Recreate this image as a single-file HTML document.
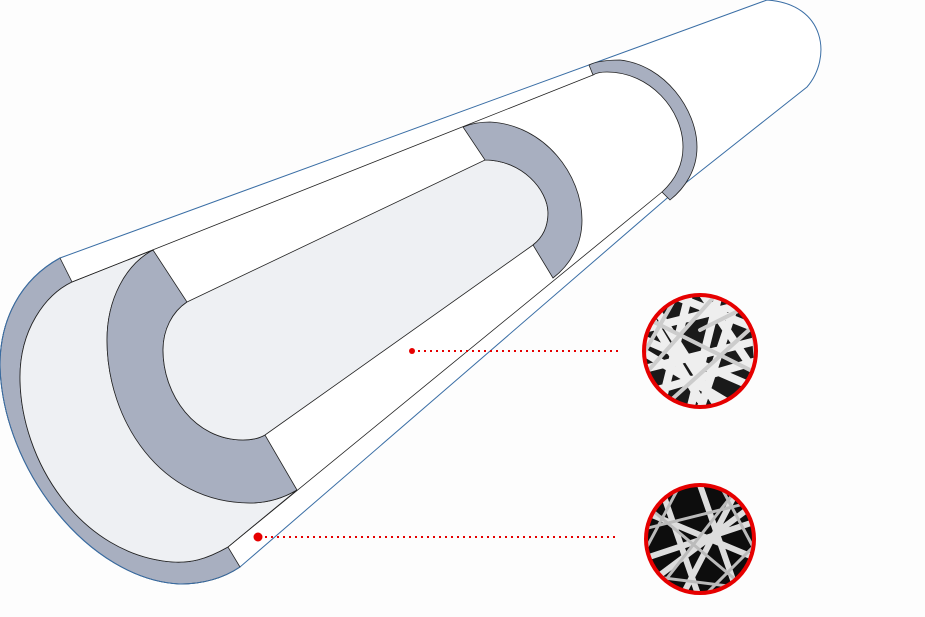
<!DOCTYPE html>
<html><head><meta charset="utf-8"><style>html,body{margin:0;padding:0;background:#fdfdfd}svg{display:block}</style></head><body>
<svg width="925" height="617" viewBox="0 0 925 617" xmlns="http://www.w3.org/2000/svg">
<defs>
<clipPath id="c1"><circle cx="700" cy="351" r="55"/></clipPath>
<clipPath id="c2"><circle cx="700" cy="539" r="53"/></clipPath>
</defs>
<rect width="925" height="617" fill="#fdfdfd"/>
<path d="M60,258 C20,280 0,320 0,365 C2,470 90,580 180,584 C205,584 225,577 240,567 L673,193 L807,87 C832,58 826,4 767,0 Z" fill="#fff" stroke="#3a6ea5" stroke-width="1"/>
<g stroke="#222" stroke-width="0.8">
<path d="M60,258 C20,280 0,320 0,365 C2,470 90,580 180,584 C205,584 225,577 240,567 L228,547 C205,560 190,563 173,562 C80,555 20,460 20,377 C20,330 45,295 72,282 Z" fill="#a8afc0"/>
<path d="M72,282 C45,295 20,330 20,377 C20,460 80,555 173,562 C190,563 205,560 228,547 L297,490 C280,500 265,503 250,503 C160,500 107,420 107,340 C107,300 125,265 153,250 Z" fill="#eef0f3"/>
<path d="M153,250 C125,265 107,300 107,340 C107,420 160,503 250,503 C265,503 280,500 297,490 L265,435 C258,439 250,440 243,440 C195,440 163,395 163,350 C163,330 172,312 187,302 Z" fill="#a8afc0"/>
<path d="M187,302 L485,160 C522,160 548,190 548,213 C548,228 542,238 533,245 L265,435 C258,439 250,440 243,440 C195,440 163,395 163,350 C163,330 172,312 187,302 Z" fill="#eef0f3"/>
<path d="M463,127 C470,124 480,122 490,122 C545,125 582,175 582,220 C582,245 570,265 553,278 L533,245 C542,238 548,228 548,213 C548,190 522,160 485,160 Z" fill="#a8afc0"/>
<path d="M589,65 C595,62 605,60 620,60 C665,65 697,110 697,147 C697,170 685,188 670,200 L662,192 C675,180 683,165 683,147 C683,110 650,72 607,72 C600,72 596,73 593,75 Z" fill="#a8afc0"/>
<path d="M72,282 L593,75 M228,547 L662,192" fill="none"/>
</g>
<path d="M60,258 C20,280 0,320 0,365 C2,470 90,580 180,584 C205,584 225,577 240,567" fill="none" stroke="#3a6ea5" stroke-width="1"/>
<g clip-path="url(#c1)">
<rect x="640" y="290" width="120" height="120" fill="#1a1a1a"/>
<g stroke="#eee" stroke-linecap="round">
<path d="M640,330 L760,300 M650,300 L720,410 M690,290 L660,410 M640,370 L760,340 M700,290 L760,380 M640,350 L740,410 M660,290 L760,330 M720,290 L690,410 M640,395 L760,360 M740,290 L700,410 M640,300 L700,400 M645,340 L760,390" stroke-width="8"/>
<path d="M640,315 L760,375 M680,290 L640,360 M750,290 L760,410 M640,380 L720,290 M660,410 L760,320 M700,330 L760,300" stroke-width="4" stroke="#ccc"/>
</g>
</g>
<g clip-path="url(#c2)">
<rect x="640" y="480" width="120" height="120" fill="#0d0d0d"/>
<g stroke="#ddd" stroke-linecap="round">
<path d="M700,485 L740,600 M640,560 L760,520 M660,485 L700,600 M640,590 L760,500 M640,510 L760,560 M740,485 L680,600" stroke-width="6"/>
<path d="M640,530 L760,500 M720,485 L760,560 M640,575 L760,590 M680,485 L640,560 M640,500 L760,600 M760,540 L700,600 M650,600 L740,485" stroke-width="3" stroke="#bbb"/>
</g>
</g>
<circle cx="700" cy="351" r="56" fill="none" stroke="#e60000" stroke-width="4"/>
<circle cx="700" cy="539" r="54" fill="none" stroke="#e60000" stroke-width="4"/>
<circle cx="412" cy="351" r="3" fill="#e60000"/>
<line x1="418" y1="351" x2="622" y2="351" stroke="#e60000" stroke-width="2" stroke-dasharray="2 4"/>
<circle cx="258" cy="537" r="4.5" fill="#e60000"/>
<line x1="265" y1="537" x2="617" y2="537" stroke="#e60000" stroke-width="2" stroke-dasharray="2 4"/>
</svg>
</body></html>
